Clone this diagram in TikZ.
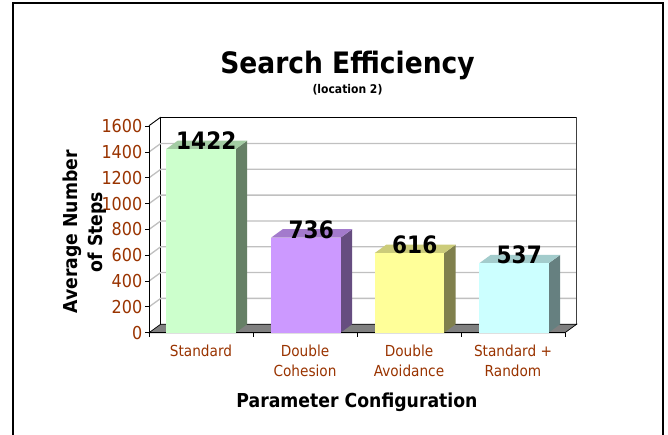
\documentclass[tikz,border=0pt]{standalone}
\usepackage{fontspec}
\setmainfont{DejaVu Sans Condensed}
\begin{document}
\begin{tikzpicture}[x=1pt,y=-1pt,
  axislabel/.style={text=labelbrown,font=\fontsize{17.8}{20}\selectfont},
  catlabel/.style={text=labelbrown,font=\fontsize{15.2}{20}\selectfont,align=center,anchor=north},
  valuelabel/.style={font=\bfseries\fontsize{24}{26}\selectfont,anchor=base,inner sep=0pt},
  gridline/.style={draw=gridgray,line width=1.3pt},
  wall/.style={fill=white,draw=black,line width=0.9pt}]
\definecolor{labelbrown}{HTML}{993300}
\definecolor{gridgray}{HTML}{C0C0C0}
\definecolor{floorgray}{HTML}{808080}
\useasboundingbox (0,0) rectangle (668,434);
% outer chart frame (its bottom edge lies below the page)
\draw[line width=2pt] (13,445) -- (13,3) -- (662.5,3) -- (662.5,445);

% geometry: value scale and depth offset
\def\yzero{332.7}
\def\ysc{0.12906}
\def\dx{11.7}
\def\dy{8.5}

% left side wall and back wall
\fill[white] (149,125.7) -- (160.7,117.2) -- (160.7,324.2) -- (149,332.7) -- cycle;
\draw[wall] (160.7,117.2) rectangle (576.7,324.2);
% grid lines
\foreach \v in {200,400,...,1400}{
  \pgfmathsetmacro{\yy}{\yzero-\v*\ysc}
  \draw[gridline] (149,\yy) -- (160.7,\yy-\dy) -- (576.2,\yy-\dy);
}
\draw[black,line width=0.9pt] (149,125.7) -- (160.7,117.2);
\draw[black!75,line width=1.2pt] (576.7,117.2) -- (576.7,324.2);

% floor
\draw[fill=floorgray,draw=black,line width=0.7pt] (149,\yzero) -- (160.7,324.2) -- (576.7,324.2) -- (565,\yzero) -- cycle;

% vertical axis with ticks and labels
\draw[black,line width=1pt] (149,125.7) -- (149,\yzero);
\foreach \v in {0,200,...,1600}{
  \pgfmathsetmacro{\yy}{\yzero-\v*\ysc}
  \draw[black,line width=0.8pt] (145,\yy) -- (149,\yy);
  \node[axislabel,anchor=east,inner sep=0pt] (tick\v) at (142.5,\yy) {\v};
}
% horizontal axis with category ticks
\draw[black,line width=1pt] (149,\yzero) -- (565,\yzero);
\foreach \xx in {149,253,357,461,565}{
  \draw[black,line width=0.8pt] (\xx,\yzero) -- (\xx,\yzero+4);
}

% columns: front face, top face, side face
\foreach \xl/\v/\cf/\ct/\cs/\nm in {
   166/1422/CCFFCC/A3CCA3/668066/std,
   271/736/CC99FF/A37ACC/664D80/dcoh,
   374.5/616/FFFF99/CCCC7A/80804D/davo,
   479/537/CCFFFF/A3CCCC/668080/rnd}{
  \pgfmathsetmacro{\yt}{\yzero-\v*\ysc}
  \pgfmathsetmacro{\xr}{\xl+69.5}
  \definecolor{cfront}{HTML}{\cf}
  \definecolor{ctop}{HTML}{\ct}
  \definecolor{cside}{HTML}{\cs}
  \fill[cside] (\xr,\yt) -- (\xr+\dx,\yt-\dy) -- (\xr+\dx,\yzero-\dy) -- (\xr,\yzero) -- cycle;
  \fill[ctop] (\xl,\yt) -- (\xl+\dx,\yt-\dy) -- (\xr+\dx,\yt-\dy) -- (\xr,\yt) -- cycle;
  \fill[cfront] (\xl,\yt) rectangle (\xr,\yzero);
  \node[valuelabel] (val\nm) at ({(\xl+\xr)/2+5.5},\yt+0.5) {\v};
}

% category labels
\node[catlabel] (catstd)  at (201,341) {Standard};
\node[catlabel] (catdcoh) at (305,341) {Double\\Cohesion};
\node[catlabel] (catdavo) at (409,341) {Double\\Avoidance};
\node[catlabel] (catrnd)  at (513,341) {Standard +\\Random};

% titles
\node[font=\bfseries\fontsize{29.5}{34}\selectfont,inner sep=0pt] (title) at (347.5,65) {Search Efficiency};
\node[font=\bfseries\fontsize{12}{14}\selectfont,inner sep=0pt] (subtitle) at (347.5,90) {(location 2)};
\node[font=\bfseries\fontsize{19.2}{25}\selectfont,align=center,rotate=90,inner sep=0pt] (ytitle) at (85,232) {Average Number\\of Steps};
\node[font=\bfseries\fontsize{19.2}{22}\selectfont,inner sep=0pt] (xtitle) at (357,402) {Parameter Configuration};
\end{tikzpicture}
\end{document}
